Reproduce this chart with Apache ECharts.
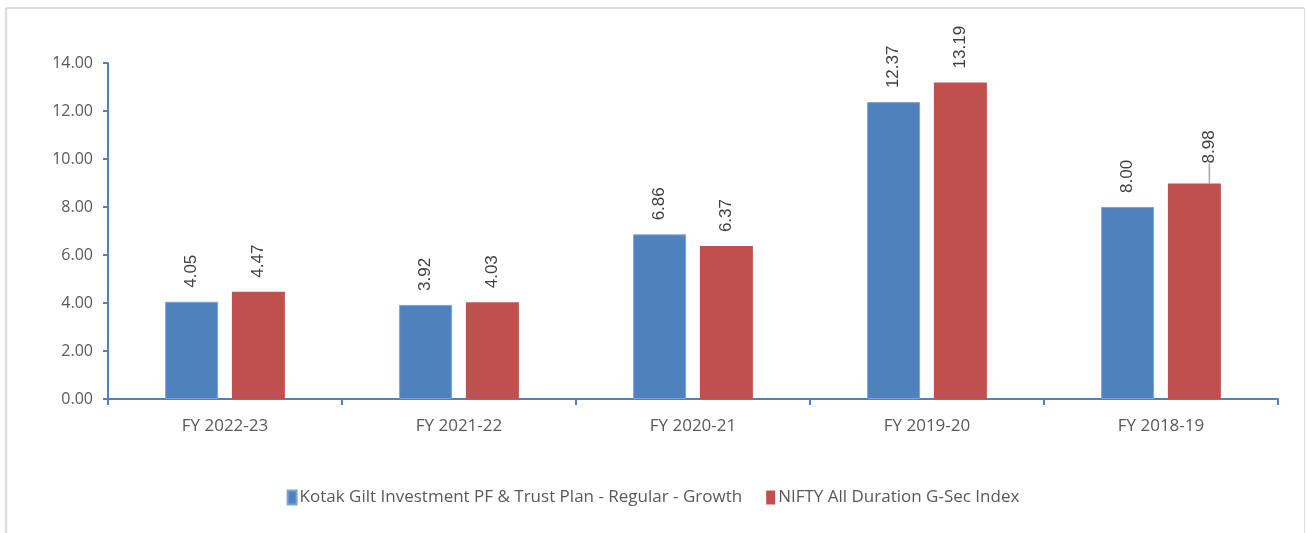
<!DOCTYPE html>
<html>
<head>
<meta charset="utf-8">
<script src="https://cdn.jsdelivr.net/npm/echarts@6/dist/echarts.min.js"></script>
<style>
  html, body { margin: 0; padding: 0; background: #fff; }
  #chart { width: 1306px; height: 533px; }
</style>
</head>
<body>
<div id="chart"></div>
<script>
// 年度
const categories = ["FY 2022-23", "FY 2021-22", "FY 2020-21", "FY 2019-20", "FY 2018-19"];
// 基金收益
const fundValues = [4.05, 3.92, 6.86, 12.37, 8.00];
// 指数收益
const indexValues = [4.47, 4.03, 6.37, 13.19, 8.98];
const fundName = "Kotak Gilt Investment PF & Trust Plan - Regular - Growth";
const indexName = "NIFTY All Duration G-Sec Index";

const axisFont = "'Open Sans', sans-serif";
const axisBlue = "#4f81bd";

let labelStyle = {
  show: true,
  position: "top",
  rotate: 90,
  align: "left",
  verticalAlign: "middle",
  distance: 14,
  fontSize: 17,
  color: "#404040",
  fontFamily: "Arial, 'Liberation Sans', sans-serif",
  formatter: (p) => p.value.toFixed(2),
};

let chart = echarts.init(document.getElementById("chart"));

// 最后一个红柱的标签有引线
let indexData = indexValues.map((v, i) => {
  if (i === 4) {
    return {
      value: v,
      labelLine: { show: true, lineStyle: { color: "#a6a6a6", width: 1.5 } },
    };
  }
  return v;
});

let option = {
  backgroundColor: "#fff",
  animation: false,
  graphic: [
    { type: "line", shape: { x1: 6, y1: 8, x2: 1304, y2: 8 }, style: { stroke: "#dedede", lineWidth: 2 } },
    { type: "line", shape: { x1: 6, y1: 8, x2: 6, y2: 533 }, style: { stroke: "#dedede", lineWidth: 2.5 } },
    { type: "line", shape: { x1: 1304.5, y1: 8, x2: 1304.5, y2: 533 }, style: { stroke: "#dedede", lineWidth: 1 } },
  ],
  grid: { left: 108, right: 28, top: 63, bottom: 134 },
  legend: {
    bottom: 22,
    left: "center",
    itemWidth: 9,
    itemHeight: 14,
    itemGap: 24,
    icon: "rect",
    textStyle: { fontSize: 17, color: "#595959", fontFamily: axisFont, padding: [0, 0, 0, -2] },
    data: [fundName, indexName],
  },
  xAxis: {
    type: "category",
    data: categories,
    axisLine: { lineStyle: { color: axisBlue, width: 2 } },
    axisTick: { show: true, length: 6, lineStyle: { color: axisBlue, width: 2 } },
    axisLabel: { fontSize: 17, color: "#595959", fontFamily: axisFont, margin: 19 },
  },
  yAxis: {
    type: "value",
    min: 0,
    max: 14,
    interval: 2,
    axisLine: { show: true, lineStyle: { color: axisBlue, width: 2 } },
    axisTick: { show: true, length: 5, lineStyle: { color: axisBlue, width: 2 } },
    splitLine: { show: false },
    axisLabel: {
      fontSize: 16,
      color: "#595959",
      fontFamily: axisFont,
      margin: 15,
      formatter: (v) => v.toFixed(2),
    },
  },
  series: [
    {
      name: fundName,
      type: "bar",
      data: fundValues,
      barWidth: 53,
      barGap: "26%",
      itemStyle: { color: "#4f81bd", borderColor: "#7da3d6", borderWidth: 1 },
      label: labelStyle,
    },
    {
      name: indexName,
      type: "bar",
      data: indexData,
      barWidth: 53,
      itemStyle: { color: "#c0504d" },
      label: labelStyle,
      // 旋转后的标签 dx/dy 按文字方向计算
      labelLayout: (params) => (params.dataIndex === 4 ? { dx: 6, dy: 15 } : {}),
    },
  ],
};

chart.setOption(option);
</script>
</body>
</html>
